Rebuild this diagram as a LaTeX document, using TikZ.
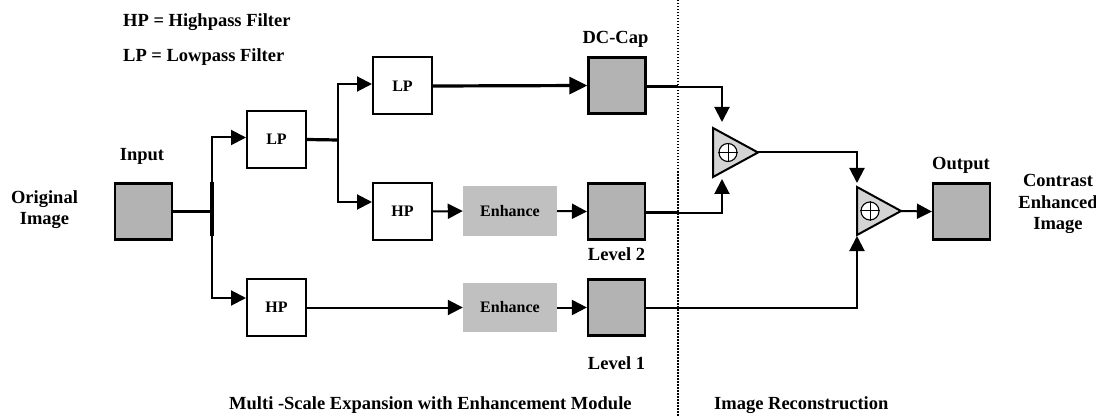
\documentclass[tikz,border=0pt]{standalone}
\usepackage{fontspec}
\setmainfont{Liberation Serif}
\usetikzlibrary{arrows.meta}
\definecolor{boxgray}{HTML}{B3B3B3}
\definecolor{enhgray}{HTML}{C0C0C0}
\definecolor{addgray}{HTML}{D4D4D4}
\tikzset{
  lbl/.style={font=\fontsize{18.5}{21.5}\selectfont\bfseries, inner sep=0pt},
  filt/.style={draw, line width=2pt, fill=white, minimum width=59pt, minimum height=57pt, inner sep=0pt,
    font=\fontsize{16}{18}\selectfont\bfseries},
  img/.style={draw, line width=2.2pt, fill=boxgray, minimum width=57pt, minimum height=56pt, inner sep=0pt},
  enh/.style={fill=enhgray, minimum width=94pt, minimum height=49pt, inner sep=0pt,
    font=\fontsize{16}{18}\selectfont\bfseries},
  conn/.style={line width=2pt, -{Triangle[length=15pt,width=15pt]}},
  thickconn/.style={line width=3.2pt, -{Triangle[length=18pt,width=17pt]}},
  thickline/.style={line width=3.2pt},
  adder/.style={draw, line width=2pt, fill=addgray, line join=miter},
}
\begin{document}
\begin{tikzpicture}[x=1pt,y=-1pt]
\useasboundingbox (0,0) rectangle (1096,417);

% legend
\node[lbl, anchor=west] (lgh) at (123,22.5) {HP = Highpass Filter};
\node[lbl, anchor=west] (lgl) at (123,57) {LP = Lowpass Filter};

% labels
\node[lbl, align=center] (orig) at (44.5,209.5) {Original\\Image};
\node[lbl] (inlbl) at (142,156) {Input};
\node[lbl] (dclbl) at (615.5,39) {DC-Cap};
\node[lbl] (l2lbl) at (616.5,254) {Level 2};
\node[lbl] (l1lbl) at (616.5,363) {Level 1};
\node[lbl] (outlbl) at (961,165) {Output};
\node[lbl, align=center] (celbl) at (1058,204) {Contrast\\Enhanced\\Image};
\node[lbl, anchor=west] (msl) at (229,405) {Multi -Scale Expansion with Enhancement Module};
\node[lbl, anchor=west] (irl) at (714,405) {Image Reconstruction};

% divider
\coordinate (dtop) at (678,0);
\coordinate (dbot) at (678,417);
\draw[line width=1.5pt, dash pattern=on 1.5pt off 1.5pt] (dtop) -- (dbot);

% boxes
\node[img] (inp) at (143.5,211.5) {};
\node[filt] (lp1) at (276.5,139.5) {LP};
\node[filt] (hp1) at (276.5,307.5) {HP};
\node[filt] (lp2) at (402.5,86) {LP};
\node[filt] (hp2) at (402.5,211.5) {HP};
\node[enh] (enh2) at (510,211) {Enhance};
\node[enh] (enh1) at (510,307.5) {Enhance};
\node[img] (dc) at (617,85.5) {};
\node[img] (lev2) at (616.5,211.5) {};
\node[img] (lev1) at (616.5,307.5) {};
\node[img] (out) at (961.5,211.5) {};

% adders
\coordinate (a1tl) at (713,128);
\coordinate (a1bl) at (713,177);
\coordinate (a1tip) at (758,152.5);
\draw[adder] (a1tl) -- (a1tip) -- (a1bl) -- cycle;
\node[draw, circle, line width=1.1pt, fill=white, minimum size=18pt, inner sep=0pt] (p1) at (728,152.5) {};
\draw[line width=1pt] (p1.north) -- (p1.south) (p1.west) -- (p1.east);
\coordinate (a1top) at (722,128);
\coordinate (a1bot) at (722,177);

\coordinate (a2tl) at (857,187);
\coordinate (a2bl) at (857,235);
\coordinate (a2tip) at (901,211);
\draw[adder] (a2tl) -- (a2tip) -- (a2bl) -- cycle;
\node[draw, circle, line width=1.1pt, fill=white, minimum size=18pt, inner sep=0pt] (p2) at (870,211) {};
\draw[line width=1pt] (p2.north) -- (p2.south) (p2.west) -- (p2.east);

% first split
\coordinate (sp) at (212,211.5);
\draw[thickline] (inp.east) -- (sp);
\draw[line width=4pt] (212,182) -- (212,236);
\draw[conn] (sp) |- ([yshift=2pt]lp1.west);
\draw[conn] (sp) |- ([yshift=9.5pt]hp1.west);

% second split
\coordinate (sp2) at (338,140);
\draw[thickline] (lp1.east) -- (sp2);
\draw[conn] (sp2) |- ([yshift=2pt]lp2.west);
\draw[conn] (sp2) |- ([yshift=9.5pt]hp2.west);

% level chains
\draw[thickconn] (lp2.east) -- (dc.west);
\draw[conn] (hp2.east) -- (enh2.west);
\draw[conn] (enh2.east) -- (lev2.west);
\draw[conn] (hp1.east) -- (enh1.west);
\draw[conn] (enh1.east) -- (lev1.west);

% reconstruction
\coordinate (dcx) at (678,87);
\coordinate (l2x) at (678,213);
\draw[line width=3pt] ([yshift=-1.5pt]dc.east) -- (dcx);
\draw[conn] (dcx) -| ([yshift=6pt]a1top);
\draw[line width=3pt] ([yshift=-1.5pt]lev2.east) -- (l2x);
\draw[conn] (l2x) -| ([yshift=-2pt]a1bot);
\draw[conn] (a1tip) -| ([yshift=4pt]a2tl);
\draw[conn] (lev1.east) -| ([yshift=-1pt]a2bl);
\draw[conn] (a2tip) -- (out.west);
\end{tikzpicture}
\end{document}
